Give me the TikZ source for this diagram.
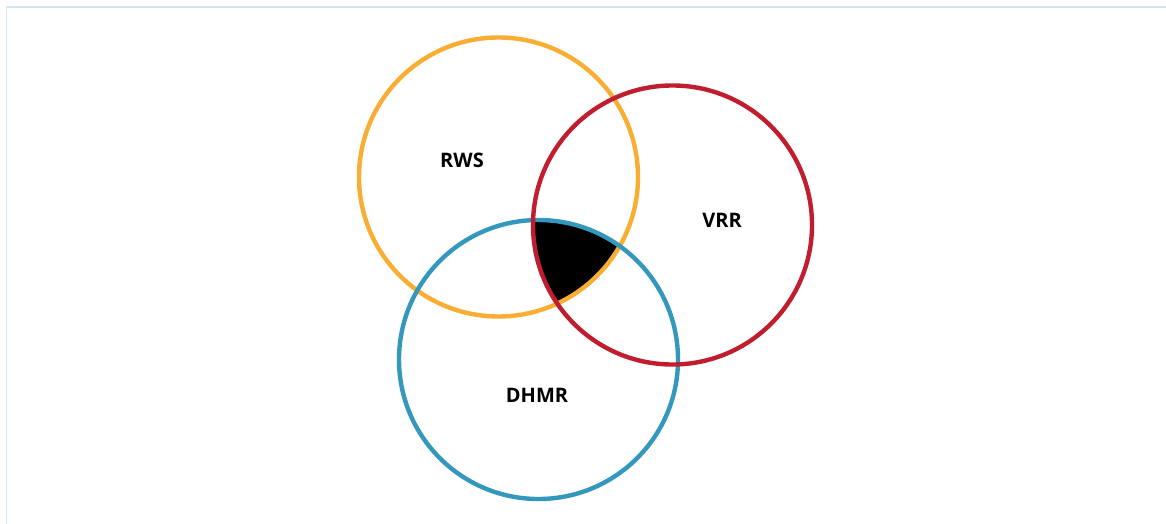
\documentclass[tikz,border=0pt]{standalone}
\usepackage{fontspec}
\setmainfont{Open Sans}
\begin{document}
\begin{tikzpicture}[x=1pt,y=-1pt,
  ring/.style={line width=4.4pt},
  lab/.style={font=\bfseries\fontsize{20}{24}\selectfont, text=black}]
\definecolor{rwsc}{HTML}{F9AE33}
\definecolor{vrrc}{HTML}{C01E2E}
\definecolor{dhmrc}{HTML}{3498BE}
\definecolor{framec}{HTML}{D5E6F3}
\useasboundingbox (0,0) rectangle (1166,524);
\draw[framec, line width=1.3pt] (6.5,540) -- (6.5,7) -- (1180,7);
\coordinate (cR) at (498.5,177);
\coordinate (cV) at (672.5,225);
\coordinate (cD) at (538.5,359.5);
\begin{scope}
  \clip (cR) circle (139.5);
  \clip (cV) circle (139.5);
  \fill[black] (cD) circle (139.5);
\end{scope}
\draw[ring, rwsc] (cR) circle (139.5);
\draw[ring, dhmrc] (cD) circle (139.5);
\draw[ring, vrrc] (cV) circle (139.5);
\node[lab] (rws) at (462,160) {RWS};
\node[lab] (vrr) at (722,220) {VRR};
\node[lab] (dhmr) at (537,395) {DHMR};
\end{tikzpicture}
\end{document}
